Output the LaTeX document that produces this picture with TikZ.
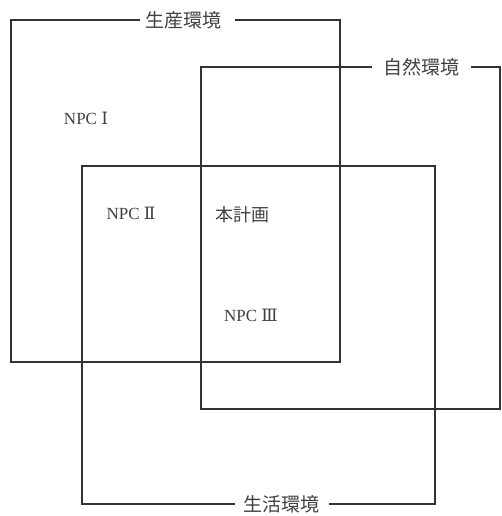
\documentclass[tikz,border=0pt]{standalone}
\usepackage{fontspec}
\setmainfont{Liberation Serif}
\newfontfamily\jpfont{Noto Sans CJK JP}
\newfontfamily\numfont{DejaVu Serif}
\tikzset{envbox/.style={draw=black!80, line width=1.4pt}}
\tikzset{envlabel/.style={font=\jpfont\fontsize{19}{19}\selectfont, text=black!75, inner sep=0pt}}
\tikzset{zonelabel/.style={font=\fontsize{17}{17}\selectfont, text=black!75, inner sep=0pt}}
\begin{document}
\begin{tikzpicture}[x=1pt,y=-1pt]
    \useasboundingbox (0,0) rectangle (502,516);

    \node[envlabel] at (183,20) (prod){生産環境};
    \node[envlabel] at (421,67) (nat){自然環境};
    \node[envlabel] at (281,504) (life){生活環境};

    \draw[envbox] ([xshift = -5pt]prod.west) -| (11,362) -| (340,20) -- ([xshift = 14pt]prod.east);
    \draw[envbox] ([xshift = -11pt]nat.west) -| (201,409) -| (500,67) -- ([xshift = 12pt]nat.east);
    \draw[envbox] ([xshift = -8pt]life.west) -| (82,166) -| (435,504) -- ([xshift = 10pt]life.east);

    \node[zonelabel] at (86,118) (npc1){NPC~{\numfont Ⅰ}};
    \node[zonelabel] at (131,213) (npc2){NPC~{\numfont Ⅱ}};
    \node[envlabel, font=\jpfont\fontsize{18}{18}\selectfont] at (242,215) (plan){本計画};
    \node[zonelabel] at (251,315) (npc3){NPC~{\numfont Ⅲ}};
\end{tikzpicture}
\end{document}
